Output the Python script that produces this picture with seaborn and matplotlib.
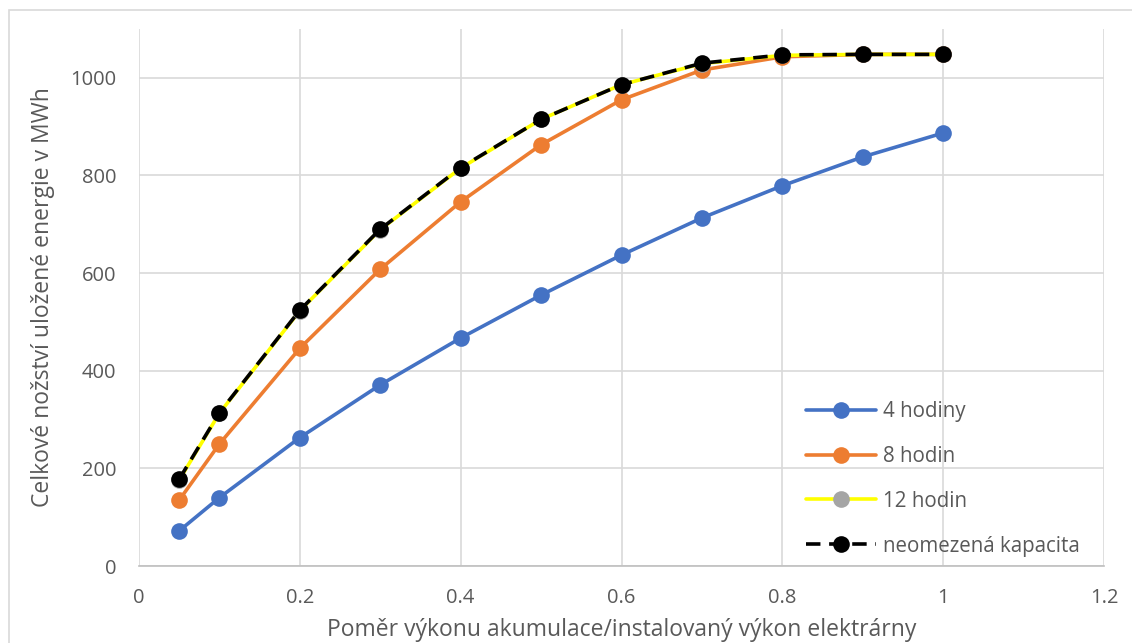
import matplotlib
matplotlib.use("Agg")
import matplotlib.pyplot as plt
import seaborn as sns
from matplotlib.patches import Rectangle

x_vals = [0.05, 0.1, 0.2, 0.3, 0.4, 0.5, 0.6, 0.7, 0.8, 0.9, 1.0]
h4 = [72, 140, 263, 371, 467, 555, 637, 713, 779, 838, 887]
h8 = [135, 250, 446, 608, 746, 863, 955, 1016, 1043, 1048, 1048]
h12 = [176, 313, 523, 689, 815, 915, 986, 1029, 1046, 1048, 1048]
unlimited = [178, 314, 524, 690, 816, 915, 986, 1030, 1047, 1048, 1048]

labels = ["4 hodiny", "8 hodin", "12 hodin", "neomezená kapacita"]
x_ticks = [0, 0.2, 0.4, 0.6, 0.8, 1.0, 1.2]
x_tick_labels = ["0", "0.2", "0.4", "0.6", "0.8", "1", "1.2"]
y_ticks = [0, 200, 400, 600, 800, 1000]

sns.set_theme(style="white")
plt.rcParams["font.family"] = ["Open Sans", "DejaVu Sans"]

W, H = 1132, 643
L, R, T, B = 139, 1104, 29, 566
fig = plt.figure(figsize=(W / 100, H / 100), dpi=100)
ax = fig.add_axes([L / W, (H - B) / H, (R - L) / W, (B - T) / H])

# outer chart border
fig.patches.append(Rectangle((9 / W, -0.1), 1.2, (H - 10) / H + 0.1,
                             transform=fig.transFigure, fill=False,
                             edgecolor="#d9d9d9", linewidth=1.2, zorder=0))

tc = "#595959"
lw = 2.6
ms = 12

sns.lineplot(x=x_vals, y=h4, ax=ax, color="#4472C4", linewidth=lw, marker="o",
             markersize=ms, markeredgewidth=0, label=labels[0], zorder=3)
sns.lineplot(x=x_vals, y=h8, ax=ax, color="#ED7D31", linewidth=lw, marker="o",
             markersize=ms, markeredgewidth=0, label=labels[1], zorder=3)
sns.lineplot(x=x_vals, y=h12, ax=ax, color="#FFFF00", linewidth=lw, marker="o",
             markersize=ms, markeredgewidth=0, markerfacecolor="#A5A5A5",
             label=labels[2], zorder=4)
sns.lineplot(x=x_vals, y=unlimited, ax=ax, color="black", linewidth=lw, marker="o",
             markersize=ms, markeredgewidth=0, linestyle=(0, (4.0, 2.4)),
             label=labels[3], zorder=5)

ax.set_xlim(0, 1.2)
ax.set_ylim(0, 1100)
ax.set_xticks(x_ticks)
ax.set_xticklabels(x_tick_labels)
ax.set_yticks(y_ticks)
ax.tick_params(axis="both", length=0, labelsize=14.5, labelcolor=tc)
ax.tick_params(axis="y", pad=16.5)
ax.tick_params(axis="x", pad=16)

ax.grid(True, color="#d9d9d9", linewidth=1.2)
ax.set_axisbelow(True)
for s in ["top", "right", "left"]:
    ax.spines[s].set_visible(False)
ax.spines["bottom"].set_color("#bfbfbf")
ax.spines["bottom"].set_linewidth(1.2)

ax.set_xlabel("Poměr výkonu akumulace/instalovaný výkon elektrárny", fontsize=16.5, color=tc)
ax.set_ylabel("Celkové nožství uložené energie v MWh", fontsize=16.5, color=tc)
ax.xaxis.label.set_va("center")
ax.yaxis.label.set_va("center")
ax.xaxis.set_label_coords(0.5, (B - 630) / (B - T))
ax.yaxis.set_label_coords((43 - L) / (R - L), (B - 297) / (B - T))

leg = ax.legend(loc="upper left", bbox_to_anchor=((806 - L) / (R - L), (B - 401) / (B - T)),
                frameon=False, fontsize=14.8, labelcolor=tc, handlelength=3.4,
                labelspacing=1.16, handletextpad=0.35, borderpad=0, borderaxespad=0)
for h in leg.legend_handles:
    h.set_markeredgewidth(0)

fig.savefig("out.png", dpi=100)
